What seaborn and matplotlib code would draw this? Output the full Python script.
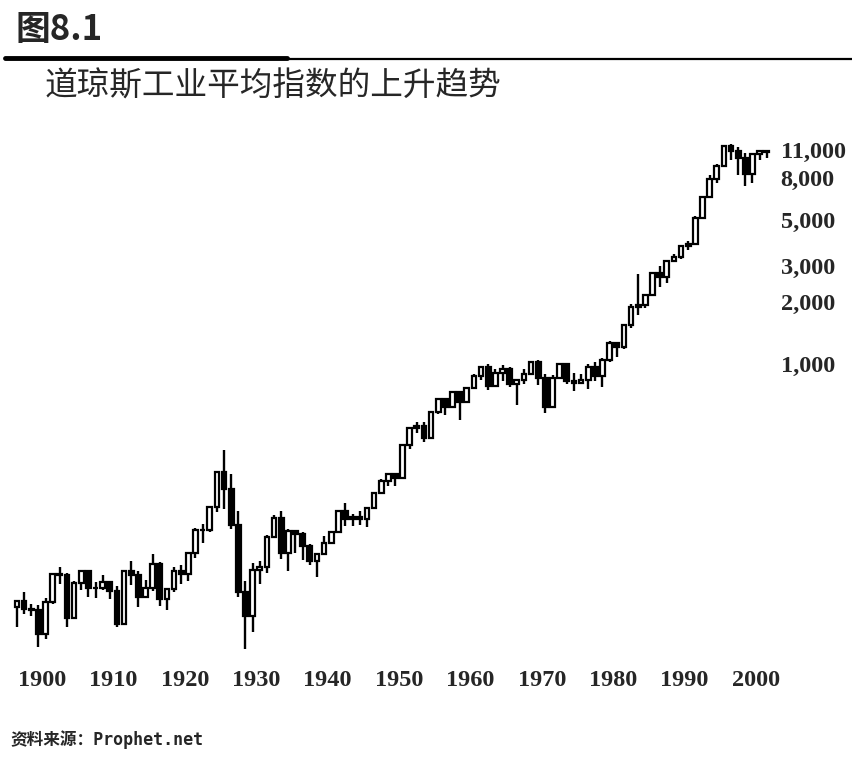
import numpy as np
import pandas as pd
import matplotlib
matplotlib.use("Agg")
import matplotlib.pyplot as plt
import seaborn as sns
from matplotlib.lines import Line2D
from matplotlib.ticker import NullLocator

#道琼斯工业平均指数 年K线 (1900-2005)
years = list(range(1900, 2006))

opens = [66.1, 70.7, 64.6, 64.3, 49.1, 69.6, 96.2, 94.4, 58.8, 86.2,
         99.1, 81.4, 81.7, 87.9, 78.8, 54.6, 99.2, 95.0, 74.4, 82.2,
         107.2, 72.0, 81.1, 98.7, 95.5, 120.5, 156.7, 157.2, 202.4, 300.0,
         248.5, 164.6, 77.9, 59.9, 99.9, 104.0, 144.1, 179.9, 120.9, 154.8,
         150.2, 131.1, 111.0, 119.4, 135.9, 152.3, 192.9, 177.2, 181.2, 177.3,
         200.1, 235.4, 269.2, 291.9, 280.9, 404.4, 488.4, 499.5, 435.7, 583.7,
         679.4, 615.9, 731.1, 652.1, 763.0, 874.1, 969.3, 785.7, 905.1, 943.8,
         800.4, 838.9, 890.2, 1020.0, 850.9, 616.2, 852.4, 1004.7, 831.2, 805.0,
         838.7, 964.0, 875.0, 1046.5, 1258.6, 1211.6, 1546.7, 1896.0, 1938.8, 2168.6,
         2753.2, 2633.7, 3168.8, 3301.1, 3754.1, 3834.4, 5117.1, 6448.3, 7908.3, 9181.4,
         11497.1, 10786.9, 10021.5, 8341.6, 10453.9, 10783.0]

closes = [70.7, 64.6, 64.3, 49.1, 69.6, 96.2, 94.4, 58.8, 86.2, 99.1,
          81.4, 81.7, 87.9, 78.8, 54.6, 99.2, 95.0, 74.4, 82.2, 107.2,
          72.0, 81.1, 98.7, 95.5, 120.5, 156.7, 157.2, 202.4, 300.0, 248.5,
          164.6, 77.9, 59.9, 99.9, 104.0, 144.1, 179.9, 120.9, 154.8, 150.2,
          131.1, 111.0, 119.4, 135.9, 152.3, 192.9, 177.2, 181.2, 177.3, 200.1,
          235.4, 269.2, 291.9, 280.9, 404.4, 488.4, 499.5, 435.7, 583.7, 679.4,
          615.9, 731.1, 652.1, 763.0, 874.1, 969.3, 785.7, 905.1, 943.8, 800.4,
          838.9, 890.2, 1020.0, 850.9, 616.2, 852.4, 1004.7, 831.2, 805.0, 838.7,
          964.0, 875.0, 1046.5, 1258.6, 1211.6, 1546.7, 1896.0, 1938.8, 2168.6, 2753.2,
          2633.7, 3168.8, 3301.1, 3754.1, 3834.4, 5117.1, 6448.3, 7908.3, 9181.4, 11497.1,
          10786.9, 10021.5, 8341.6, 10453.9, 10783.0, 10717.5]

highs = [71.0, 78.3, 68.4, 67.7, 73.2, 96.6, 103.0, 96.4, 88.4, 100.5,
         99.1, 87.1, 94.2, 88.6, 83.4, 99.2, 110.2, 99.2, 89.1, 119.6,
         109.9, 81.5, 103.4, 105.4, 120.5, 159.4, 166.6, 202.4, 300.0, 381.2,
         294.1, 194.4, 88.8, 108.7, 110.7, 148.4, 184.9, 194.4, 158.4, 155.9,
         152.8, 133.6, 119.7, 145.8, 152.5, 195.8, 212.5, 186.9, 193.2, 200.5,
         235.5, 276.4, 292.0, 293.8, 404.4, 488.4, 521.1, 520.8, 583.7, 679.4,
         685.5, 734.9, 731.1, 767.2, 891.7, 969.3, 995.2, 943.1, 985.2, 968.9,
         842.0, 950.8, 1036.3, 1051.7, 891.7, 881.8, 1014.8, 1004.7, 907.7, 897.6,
         1000.2, 1024.1, 1070.6, 1287.2, 1286.6, 1553.1, 1955.6, 2722.4, 2183.5, 2791.4,
         3000.0, 3168.8, 3413.2, 3794.3, 3978.4, 5216.5, 6560.9, 8259.3, 9374.3, 11497.1,
         11723.0, 11337.9, 10635.3, 10453.9, 10854.5, 10940.5]

lows = [53.0, 61.5, 59.6, 42.2, 46.4, 68.8, 85.2, 53.0, 58.6, 79.9,
        73.6, 72.9, 80.2, 72.1, 53.2, 54.2, 85.0, 66.0, 73.4, 79.2,
        66.8, 63.9, 78.6, 85.8, 88.3, 115.0, 135.2, 152.7, 191.3, 198.7,
        157.5, 73.8, 41.2, 50.2, 85.5, 96.7, 143.1, 113.6, 99.0, 121.4,
        111.8, 106.3, 92.9, 119.3, 134.2, 151.4, 163.1, 163.2, 165.4, 161.6,
        196.8, 235.4, 256.4, 255.5, 279.9, 388.2, 462.4, 419.8, 435.7, 574.5,
        566.1, 610.3, 535.8, 646.8, 763.0, 840.6, 744.3, 785.7, 825.1, 769.9,
        631.2, 798.0, 889.2, 788.3, 577.6, 616.2, 852.4, 800.9, 742.1, 796.7,
        759.1, 824.0, 776.9, 1027.0, 1086.6, 1185.0, 1502.3, 1738.7, 1879.1, 2144.6,
        2365.1, 2470.3, 3136.6, 3242.0, 3593.4, 3832.1, 5032.9, 6391.7, 7539.1, 9120.7,
        9796.0, 8235.8, 7286.3, 7524.1, 9750.0, 10012.4]

# 原图的年份标注比K线偏右约3.5年
tick_years = [1900, 1910, 1920, 1930, 1940, 1950, 1960, 1970, 1980, 1990, 2000]
tick_shift = 3.5
price_ticks = [1000, 2000, 3000, 5000, 8000, 11000]
price_labels = ["1,000", "2,000", "3,000", "5,000", "8,000", "11,000"]

df = pd.DataFrame({"year": years, "open": opens, "high": highs,
                   "low": lows, "close": closes})
df["up"] = df["close"] >= df["open"]
df["body_lo"] = df[["open", "close"]].min(axis=1)
df["body_hi"] = df[["open", "close"]].max(axis=1)

sns.set_style("white")
plt.rcParams["font.family"] = ["Noto Sans CJK SC", "DejaVu Sans"]

W, H = 853, 759
fig = plt.figure(figsize=(W / 100, H / 100), dpi=100)
ax = fig.add_axes([0, 1 - 660 / H, 775 / W, 530 / H])

# 影线
ax.vlines(df["year"], df["low"], df["high"], color="black", linewidth=1.7, zorder=2)
# 实体: 阳线空心, 阴线实心
ax.bar(df["year"], df["body_hi"] - df["body_lo"], bottom=df["body_lo"], width=0.66,
       color=np.where(df["up"], "white", "black"), edgecolor="black",
       linewidth=1.6, zorder=3)

ax.set_yscale("log")
ax.set_ylim(36.6, 13680)
ax.set_xlim(1897.62, 2006.16)

ax.yaxis.tick_right()
ax.set_yticks(price_ticks)
ax.set_yticklabels(price_labels)
ax.yaxis.set_minor_locator(NullLocator())
ax.set_xticks([y + tick_shift for y in tick_years])
ax.set_xticklabels([str(y) for y in tick_years])
ax.tick_params(axis="y", length=0, pad=4)
ax.tick_params(axis="x", length=0, pad=7)
for lbl in ax.get_yticklabels() + ax.get_xticklabels():
    lbl.set_fontfamily("Liberation Serif")
    lbl.set_fontweight("bold")
    lbl.set_fontsize(17.5)
ax.set_xlabel("")
ax.set_ylabel("")
sns.despine(ax=ax, left=True, bottom=True)

# 标题部分
fig.text(15 / W, 1 - 12 / H, "图8.1", fontsize=25, fontweight="bold", va="top", ha="left")
fig.add_artist(Line2D([5 / W, 287 / W], [1 - 58 / H, 1 - 58 / H], color="black", linewidth=3.5))
fig.add_artist(Line2D([287 / W, 1.0], [1 - 58.5 / H, 1 - 58.5 / H], color="black", linewidth=1.6))
fig.text(45 / W, 1 - 71 / H, "道琼斯工业平均指数的上升趋势", fontsize=23.5, va="top", ha="left")

fig.text(10 / W, 1 - 740 / H, "资料来源：Prophet.net", fontsize=12, fontweight="bold",
         va="center", ha="left", family=["DejaVu Sans Mono", "Noto Sans CJK SC"])

fig.savefig("out.png", dpi=100, facecolor="white")
